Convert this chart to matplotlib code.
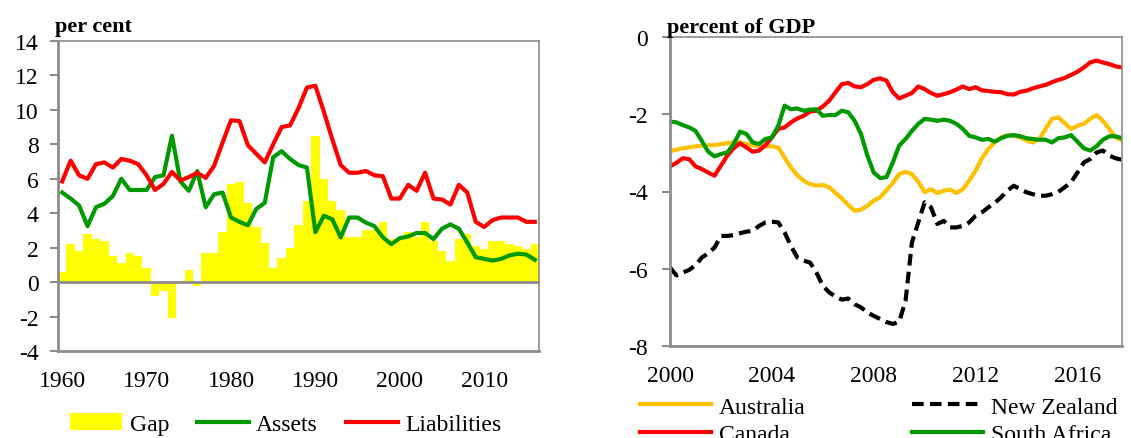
import numpy as np
import matplotlib
matplotlib.use("Agg")
import matplotlib.pyplot as plt
from matplotlib.patches import Patch
from matplotlib.lines import Line2D

plt.rcParams['font.family'] = ['Liberation Serif', 'DejaVu Serif']
plt.rcParams['axes.unicode_minus'] = False

# left panel: annual, 1960-2016
years = list(range(1960, 2017))
gap = [0.6, 2.2, 1.8, 2.8, 2.5, 2.4, 1.5, 1.1, 1.7, 1.5,
       0.8, -0.8, -0.5, -2.1, -0.1, 0.7, -0.2, 1.7, 1.7, 2.9,
       5.7, 5.8, 4.6, 3.2, 2.3, 0.8, 1.4, 2.0, 3.3, 4.7,
       8.5, 6.0, 4.7, 4.2, 2.6, 2.6, 3.0, 3.0, 3.5, 2.5,
       2.5, 2.9, 2.6, 3.5, 2.4, 1.8, 1.2, 2.5, 2.8, 2.1,
       1.9, 2.4, 2.4, 2.2, 2.1, 1.9, 2.2]
assets = [5.2, 4.85, 4.45, 3.25, 4.35, 4.55, 5.0, 6.0, 5.35, 5.35,
          5.35, 6.1, 6.2, 8.5, 5.85, 5.3, 6.45, 4.35, 5.1, 5.2,
          3.75, 3.5, 3.3, 4.25, 4.6, 7.25, 7.6, 7.15, 6.8, 6.65,
          2.9, 3.85, 3.65, 2.6, 3.75, 3.75, 3.45, 3.25, 2.6, 2.2,
          2.55, 2.65, 2.85, 2.85, 2.5, 3.1, 3.35, 3.1, 2.3, 1.45,
          1.35, 1.25, 1.35, 1.55, 1.65, 1.6, 1.3]
liabilities = [5.85, 7.05, 6.2, 6.0, 6.85, 6.95, 6.65, 7.15, 7.05, 6.85,
               6.2, 5.35, 5.7, 6.4, 5.9, 6.1, 6.35, 6.05, 6.75, 8.1,
               9.4, 9.35, 7.95, 7.45, 6.95, 8.0, 9.0, 9.1, 10.1, 11.3,
               11.4, 9.9, 8.3, 6.8, 6.35, 6.35, 6.45, 6.2, 6.15, 4.85,
               4.85, 5.65, 5.3, 6.35, 4.85, 4.8, 4.5, 5.65, 5.2, 3.5,
               3.2, 3.6, 3.75, 3.75, 3.75, 3.5, 3.5]
left_yticks = [14, 12, 10, 8, 6, 4, 2, 0, -2, -4]
left_xticks = [1960, 1970, 1980, 1990, 2000, 2010]

# right panel: quarterly, 2000Q1-2017Q4
quarters = 2000 + np.arange(72) / 4
australia = [-2.95, -2.92, -2.88, -2.86, -2.83, -2.82, -2.80, -2.80, -2.77, -2.75, -2.73, -2.73,
             -2.77, -2.80, -2.83, -2.83, -2.83, -2.86, -3.12, -3.38, -3.58, -3.72, -3.81, -3.85,
             -3.83, -3.89, -4.04, -4.18, -4.35, -4.50, -4.47, -4.37, -4.24, -4.15, -3.97, -3.78,
             -3.55, -3.49, -3.55, -3.75, -4.02, -3.94, -4.04, -3.98, -3.95, -4.04, -3.94, -3.72,
             -3.46, -3.14, -2.90, -2.73, -2.60, -2.54, -2.56, -2.60, -2.68, -2.73, -2.64, -2.38,
             -2.12, -2.08, -2.23, -2.38, -2.30, -2.25, -2.12, -2.02, -2.17, -2.38, -2.60, -2.68]
canada = [-3.35, -3.26, -3.14, -3.16, -3.35, -3.42, -3.51, -3.59, -3.33, -3.07, -2.88, -2.75,
          -2.86, -2.97, -2.94, -2.80, -2.60, -2.38, -2.34, -2.21, -2.11, -2.04, -1.93, -1.91,
          -1.80, -1.65, -1.43, -1.22, -1.19, -1.28, -1.30, -1.22, -1.11, -1.07, -1.13, -1.43,
          -1.59, -1.52, -1.45, -1.28, -1.35, -1.45, -1.52, -1.48, -1.43, -1.36, -1.28, -1.35,
          -1.30, -1.38, -1.40, -1.42, -1.43, -1.48, -1.49, -1.42, -1.39, -1.33, -1.28, -1.24,
          -1.17, -1.11, -1.06, -0.98, -0.90, -0.79, -0.66, -0.61, -0.66, -0.70, -0.76, -0.79]
new_zealand = [-5.97, -6.17, -6.10, -6.03, -5.91, -5.71, -5.60, -5.45, -5.15, -5.15, -5.13, -5.08,
               -5.04, -5.02, -4.89, -4.80, -4.78, -4.80, -5.06, -5.41, -5.71, -5.79, -5.84, -6.10,
               -6.44, -6.61, -6.72, -6.80, -6.77, -6.92, -7.00, -7.13, -7.22, -7.30, -7.38, -7.43,
               -7.37, -6.83, -5.32, -4.80, -4.28, -4.41, -4.84, -4.76, -4.93, -4.93, -4.89, -4.80,
               -4.63, -4.54, -4.41, -4.30, -4.15, -3.98, -3.85, -3.94, -4.02, -4.07, -4.11, -4.11,
               -4.07, -4.01, -3.89, -3.76, -3.51, -3.25, -3.16, -2.99, -2.94, -3.07, -3.14, -3.18]
south_africa = [-2.19, -2.21, -2.28, -2.34, -2.43, -2.69, -2.97, -3.09, -3.03, -2.99, -2.77, -2.45,
                -2.51, -2.73, -2.77, -2.64, -2.60, -2.30, -1.78, -1.87, -1.85, -1.91, -1.88, -1.87,
                -2.04, -2.02, -2.02, -1.91, -1.95, -2.17, -2.51, -3.07, -3.51, -3.65, -3.63, -3.25,
                -2.81, -2.64, -2.43, -2.25, -2.12, -2.14, -2.17, -2.14, -2.17, -2.25, -2.38, -2.56,
                -2.60, -2.66, -2.64, -2.71, -2.62, -2.56, -2.54, -2.57, -2.62, -2.64, -2.66, -2.66,
                -2.73, -2.62, -2.60, -2.54, -2.71, -2.88, -2.94, -2.83, -2.66, -2.57, -2.57, -2.62]
right_yticks = [0, -2, -4, -6, -8]
right_xticks = [2000, 2004, 2008, 2012, 2016]

GREY = '#8c8c8c'
GREEN = '#009900'
RED = '#ff0000'
ORANGE = '#ffc000'
YELLOW = '#ffff00'
LW = 3.0
FS = 17

fig = plt.figure(figsize=(11.31, 4.39), dpi=100)


def style_frame(ax):
    for side in ['top', 'right']:
        ax.spines[side].set_color(GREY)
        ax.spines[side].set_linewidth(1.2)
    for side in ['left', 'bottom']:
        ax.spines[side].set_color(GREY)
        ax.spines[side].set_linewidth(2.0)
    ax.tick_params(axis='y', direction='out', length=6, width=1.5, color=GREY,
                   labelsize=FS, pad=8)
    ax.tick_params(axis='x', length=0, labelsize=FS, pad=14)


# ---- left panel ----
ax1 = fig.add_axes([58 / 1131, 87 / 439, 481 / 1131, 310 / 439])
ax1.bar(years, gap, width=1.0, color=YELLOW, linewidth=0, label='Gap', zorder=1)
ax1.axhline(0, color=GREY, lw=2.0, zorder=2)
ax1.plot(years, assets, color=GREEN, lw=LW, label='Assets', zorder=3)
ax1.plot(years, liabilities, color=RED, lw=LW, label='Liabilities', zorder=3)
ax1.set_xlim(1959.5, 2016.5)
ax1.set_ylim(-4, 14)
ax1.set_yticks(left_yticks)
ax1.set_xticks(left_xticks)
style_frame(ax1)
fig.text(55 / 1131, 1 - 32 / 439, 'per cent', fontsize=16, fontweight='bold',
         ha='left', va='baseline')

h1 = [Patch(facecolor=YELLOW, edgecolor='none'),
      Line2D([], [], color=GREEN, lw=LW),
      Line2D([], [], color=RED, lw=LW)]
fig.legend(h1, ['Gap', 'Assets', 'Liabilities'], loc='center',
           bbox_to_anchor=(286 / 1131, 1 - 425 / 439), ncol=3, frameon=False,
           fontsize=FS, handlelength=2.2, handletextpad=0.3, columnspacing=1.2,
           handleheight=0.7)

# ---- right panel ----
ax2 = fig.add_axes([670 / 1131, 92 / 439, 452 / 1131, 309 / 439])
ax2.plot(quarters, australia, color=ORANGE, lw=LW, label='Australia')
ax2.plot(quarters, canada, color=RED, lw=LW, label='Canada')
ax2.plot(quarters, new_zealand, color='black', lw=LW, dashes=(2.8, 1.5),
         label='New Zealand')
ax2.plot(quarters, south_africa, color=GREEN, lw=LW, label='South Africa')
ax2.set_xlim(2000, 2017.75)
ax2.set_ylim(-8, 0)
ax2.set_yticks(right_yticks)
ax2.set_xticks(right_xticks)
style_frame(ax2)
ax2.tick_params(axis='y', pad=10)
fig.text(667 / 1131, 1 - 33 / 439, 'percent of GDP', fontsize=16, fontweight='bold',
         ha='left', va='baseline')

h2, l2 = ax2.get_legend_handles_labels()
fig.legend(h2, l2, loc='upper left', bbox_to_anchor=(640 / 1131, 1 - 397 / 439),
           ncol=2, frameon=False, fontsize=FS, handlelength=3.0,
           handletextpad=0.35, columnspacing=4.5, labelspacing=0.25,
           borderaxespad=0, borderpad=0)

fig.savefig('out.png', dpi=100)
